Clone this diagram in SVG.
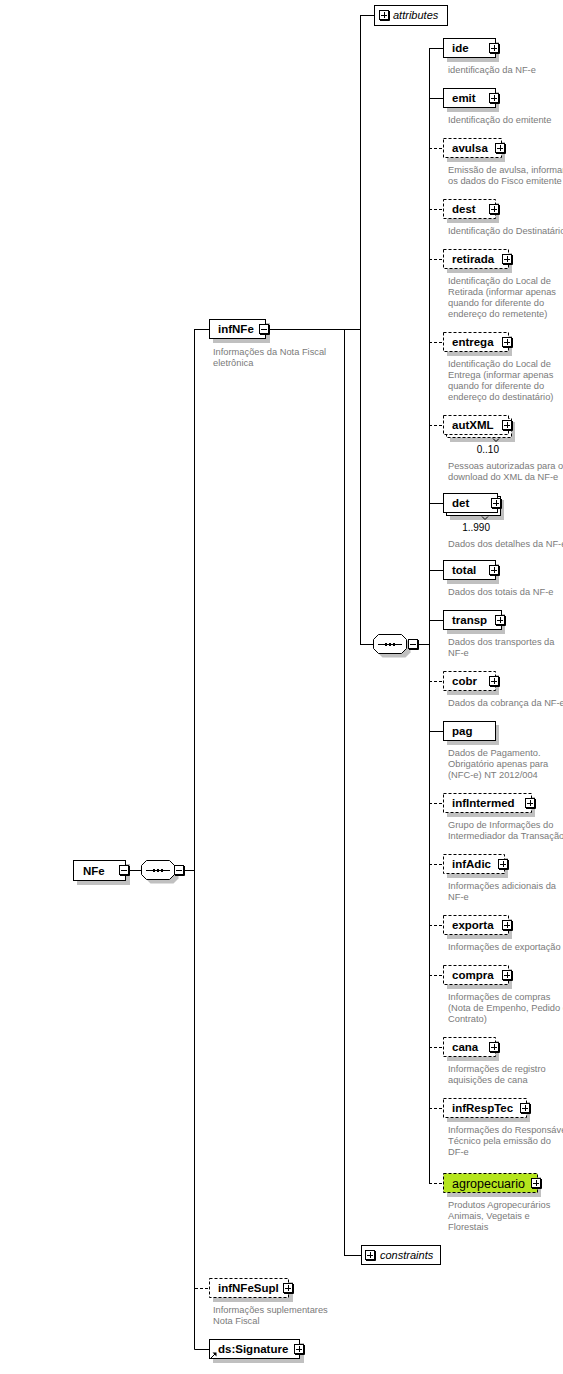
<svg xmlns="http://www.w3.org/2000/svg" width="563" height="1374" viewBox="0 0 563 1374">
<defs>
<style>
.bx{fill:#fff;stroke:#000;stroke-width:1}
.op{stroke-dasharray:3,2}
.sh{fill:#c0c0c0;stroke:none}
.ln{fill:none;stroke:#000;stroke-width:1}
.nm{font-family:"Liberation Sans",Arial,sans-serif;font-weight:bold;font-size:11.5px;fill:#000}
.ag{font-family:"Liberation Sans",Arial,sans-serif;font-size:12.5px;fill:#000}
.ds{font-family:"Liberation Sans",Arial,sans-serif;font-size:9.3px;fill:#7a7a7a}
.it{font-family:"Liberation Sans",Arial,sans-serif;font-style:italic;font-size:11px;fill:#000}
.mu{font-family:"Liberation Sans",Arial,sans-serif;font-size:10px;fill:#000;text-anchor:end}
</style>
<g id="plus"><rect x="0.5" y="0.5" width="9" height="9" fill="#fff" stroke="#000"/><path d="M2,5.5H8M5.5,2V8" stroke="#000" fill="none"/><path d="M10.5,1V10.5H1" stroke="#000" fill="none"/></g>
<g id="minus"><rect x="0.5" y="0.5" width="9" height="9" fill="#fff" stroke="#000"/><path d="M2,5.5H8" stroke="#000" fill="none"/><path d="M10.5,1V10.5H1" stroke="#000" fill="none"/></g>
<g id="seq"><path class="sh" d="M9.5,4.5H32.5L37.5,9.5V18.5L32.5,23.5H9.5L4.5,18.5V9.5Z"/><path class="bx" d="M5.5,0.5H28.5L33.5,5.5V14.5L28.5,19.5H5.5L0.5,14.5V5.5Z"/><path d="M5,10.5H29" stroke="#000" fill="none"/><rect x="12" y="9" width="2" height="3" fill="#000"/><rect x="16" y="9" width="2" height="3" fill="#000"/><rect x="20" y="9" width="2" height="3" fill="#000"/></g>
</defs>

<g id="connectors" class="ln">
<path d="M129,870.5H141M184,870.5H195"/>
<path d="M194.5,329V1349.5"/>
<path d="M194.5,329.5H209M194.5,1349.5H209"/>
<path d="M195,1288.5H209" class="op"/>
<path d="M269,329.5H360.5"/>
<path d="M360.5,15V644.5M360,15.5H374M360,644.5H373"/>
<path d="M344.5,329V1255.5M344,1255.5H361"/>
<path d="M418,644.5H429.5"/>
<path d="M429.5,48V1183.5"/>
<path d="M429,48.5H443M429,98.5H443M429,503.5H443M429,570.5H443M429,620.5H443M429,731.5H443"/>
<path class="op" d="M429,148.5H443M429,209.5H443M429,259.5H443M429,342.5H443M429,425.5H443M429,681.5H443M429,803.5H443M429,864.5H443M429,925.5H443M429,975.5H443M429,1047.5H443M429,1108.5H443M429,1183.5H443"/>
</g>

<g id="NFe">
<rect class="sh" x="77" y="864" width="53" height="21"/>
<rect class="bx" x="73.5" y="860.5" width="52" height="20"/>
<text class="nm" x="83" y="875">NFe</text>
<use href="#minus" x="119" y="865"/>
</g>
<g id="NFe_seq">
<use href="#seq" x="141" y="860"/>
<use href="#minus" x="174" y="865"/>
</g>

<g id="infNFe">
<rect class="sh" x="213" y="323" width="57" height="20"/>
<rect class="bx" x="209.5" y="319.5" width="56" height="19"/>
<text class="nm" x="218" y="333">infNFe</text>
<use href="#minus" x="259" y="324"/>
<text class="ds" x="213" y="355">Informações da Nota Fiscal</text>
<text class="ds" x="213" y="366">eletrônica</text>
</g>

<g id="infNFeSupl">
<rect class="sh" x="213" y="1282" width="80" height="20"/>
<rect class="bx op" x="209.5" y="1278.5" width="79" height="19"/>
<text class="nm" x="218" y="1292">infNFeSupl</text>
<use href="#plus" x="283" y="1283"/>
<text class="ds" x="213" y="1313">Informações suplementares</text>
<text class="ds" x="213" y="1324">Nota Fiscal</text>
</g>

<g id="ds_Signature">
<rect class="sh" x="213" y="1343" width="91" height="20"/>
<rect class="bx" x="209.5" y="1339.5" width="90" height="19"/>
<text class="nm" x="218" y="1353">ds:Signature</text>
<use href="#plus" x="294" y="1344"/>
<path d="M211,1358L215,1354" stroke="#000" fill="none"/>
<path d="M212.5,1352.5H216.5V1356.5Z" fill="#000"/>
</g>

<g id="attributes">
<rect class="bx" x="374.5" y="5.5" width="73" height="20"/>
<use href="#plus" x="379" y="10"/>
<text class="it" x="393" y="19">attributes</text>
</g>

<g id="infNFe_seq">
<use href="#seq" x="373" y="634"/>
<use href="#minus" x="408" y="639"/>
</g>

<g id="constraints">
<rect class="bx" x="361.5" y="1245.5" width="79" height="19"/>
<use href="#plus" x="365" y="1250"/>
<text class="it" x="380" y="1259">constraints</text>
</g>

<g id="ide">
<rect class="sh" x="447" y="42" width="52" height="20"/>
<rect class="bx" x="443.5" y="38.5" width="52" height="19"/>
<text class="nm" x="452" y="52">ide</text>
<use href="#plus" x="489" y="43"/>
<text class="ds" x="448" y="73">identificação da NF-e</text>
</g>

<g id="emit">
<rect class="sh" x="447" y="92" width="52" height="20"/>
<rect class="bx" x="443.5" y="88.5" width="52" height="19"/>
<text class="nm" x="452" y="102">emit</text>
<use href="#plus" x="489" y="93"/>
<text class="ds" x="448" y="123">Identificação do emitente</text>
</g>

<g id="avulsa">
<rect class="sh" x="447" y="142" width="58" height="20"/>
<rect class="bx op" x="443.5" y="138.5" width="58" height="19"/>
<text class="nm" x="452" y="152">avulsa</text>
<use href="#plus" x="495" y="143"/>
<text class="ds" x="448" y="173">Emissão de avulsa, informar</text>
<text class="ds" x="448" y="184">os dados do Fisco emitente</text>
</g>

<g id="dest">
<rect class="sh" x="447" y="203" width="52" height="20"/>
<rect class="bx op" x="443.5" y="199.5" width="52" height="19"/>
<text class="nm" x="452" y="213">dest</text>
<use href="#plus" x="489" y="204"/>
<text class="ds" x="448" y="234">Identificação do Destinatário</text>
</g>

<g id="retirada">
<rect class="sh" x="447" y="253" width="65" height="20"/>
<rect class="bx op" x="443.5" y="249.5" width="65" height="19"/>
<text class="nm" x="452" y="263">retirada</text>
<use href="#plus" x="502" y="254"/>
<text class="ds" x="448" y="284">Identificação do Local de</text>
<text class="ds" x="448" y="295">Retirada (informar apenas</text>
<text class="ds" x="448" y="306">quando for diferente do</text>
<text class="ds" x="448" y="317">endereço do remetente)</text>
</g>

<g id="entrega">
<rect class="sh" x="447" y="336" width="65" height="20"/>
<rect class="bx op" x="443.5" y="332.5" width="65" height="19"/>
<text class="nm" x="452" y="346">entrega</text>
<use href="#plus" x="502" y="337"/>
<text class="ds" x="448" y="367">Identificação do Local de</text>
<text class="ds" x="448" y="378">Entrega (informar apenas</text>
<text class="ds" x="448" y="389">quando for diferente do</text>
<text class="ds" x="448" y="400">endereço do destinatário)</text>
</g>

<g id="autXML">
<rect class="sh" x="450" y="422" width="65" height="20"/>
<rect class="bx op" x="446.5" y="418.5" width="65" height="19"/>
<path d="M493,438.5L496,441.5L499,438.5" stroke="#000" fill="none"/>
<rect class="bx op" x="443.5" y="415.5" width="65" height="19"/>
<text class="nm" x="452" y="429">autXML</text>
<use href="#plus" x="502" y="420"/>
<text class="mu" x="499" y="453">0..10</text>
<text class="ds" x="448" y="469">Pessoas autorizadas para o</text>
<text class="ds" x="448" y="480">download do XML da NF-e</text>
</g>

<g id="det">
<rect class="sh" x="450" y="500" width="54" height="20"/>
<rect class="bx" x="446.5" y="496.5" width="54" height="19"/>
<path d="M482,516.5L485,519.5L488,516.5" stroke="#000" fill="none"/>
<rect class="bx" x="443.5" y="493.5" width="54" height="19"/>
<text class="nm" x="452" y="507">det</text>
<use href="#plus" x="491" y="498"/>
<text class="mu" x="490" y="531">1..990</text>
<text class="ds" x="448" y="547">Dados dos detalhes da NF-e</text>
</g>

<g id="total">
<rect class="sh" x="447" y="564" width="52" height="20"/>
<rect class="bx" x="443.5" y="560.5" width="52" height="19"/>
<text class="nm" x="452" y="574">total</text>
<use href="#plus" x="489" y="565"/>
<text class="ds" x="448" y="595">Dados dos totais da NF-e</text>
</g>

<g id="transp">
<rect class="sh" x="447" y="614" width="58" height="20"/>
<rect class="bx" x="443.5" y="610.5" width="58" height="19"/>
<text class="nm" x="452" y="624">transp</text>
<use href="#plus" x="495" y="615"/>
<text class="ds" x="448" y="645">Dados dos transportes da</text>
<text class="ds" x="448" y="656">NF-e</text>
</g>

<g id="cobr">
<rect class="sh" x="447" y="675" width="52" height="20"/>
<rect class="bx op" x="443.5" y="671.5" width="52" height="19"/>
<text class="nm" x="452" y="685">cobr</text>
<use href="#plus" x="489" y="676"/>
<text class="ds" x="448" y="706">Dados da cobrança da NF-e</text>
</g>

<g id="pag">
<rect class="sh" x="447" y="725" width="52" height="20"/>
<rect class="bx" x="443.5" y="721.5" width="52" height="19"/>
<text class="nm" x="452" y="735">pag</text>
<text class="ds" x="448" y="756">Dados de Pagamento.</text>
<text class="ds" x="448" y="767">Obrigatório apenas para</text>
<text class="ds" x="448" y="778">(NFC-e) NT 2012/004</text>
</g>

<g id="infIntermed">
<rect class="sh" x="447" y="797" width="88" height="20"/>
<rect class="bx op" x="443.5" y="793.5" width="88" height="19"/>
<text class="nm" x="452" y="807">infIntermed</text>
<use href="#plus" x="525" y="798"/>
<text class="ds" x="448" y="828">Grupo de Informações do</text>
<text class="ds" x="448" y="839">Intermediador da Transação</text>
</g>

<g id="infAdic">
<rect class="sh" x="447" y="858" width="61" height="20"/>
<rect class="bx op" x="443.5" y="854.5" width="61" height="19"/>
<text class="nm" x="452" y="868">infAdic</text>
<use href="#plus" x="498" y="859"/>
<text class="ds" x="448" y="889">Informações adicionais da</text>
<text class="ds" x="448" y="900">NF-e</text>
</g>

<g id="exporta">
<rect class="sh" x="447" y="919" width="65" height="20"/>
<rect class="bx op" x="443.5" y="915.5" width="65" height="19"/>
<text class="nm" x="452" y="929">exporta</text>
<use href="#plus" x="502" y="920"/>
<text class="ds" x="448" y="950">Informações de exportação</text>
</g>

<g id="compra">
<rect class="sh" x="447" y="969" width="65" height="20"/>
<rect class="bx op" x="443.5" y="965.5" width="65" height="19"/>
<text class="nm" x="452" y="979">compra</text>
<use href="#plus" x="502" y="970"/>
<text class="ds" x="448" y="1000">Informações de compras</text>
<text class="ds" x="448" y="1011">(Nota de Empenho, Pedido e</text>
<text class="ds" x="448" y="1022">Contrato)</text>
</g>

<g id="cana">
<rect class="sh" x="447" y="1041" width="52" height="20"/>
<rect class="bx op" x="443.5" y="1037.5" width="52" height="19"/>
<text class="nm" x="452" y="1051">cana</text>
<use href="#plus" x="489" y="1042"/>
<text class="ds" x="448" y="1072">Informações de registro</text>
<text class="ds" x="448" y="1083">aquisições de cana</text>
</g>

<g id="infRespTec">
<rect class="sh" x="447" y="1102" width="83" height="20"/>
<rect class="bx op" x="443.5" y="1098.5" width="83" height="19"/>
<text class="nm" x="452" y="1112">infRespTec</text>
<use href="#plus" x="520" y="1103"/>
<text class="ds" x="448" y="1133">Informações do Responsável</text>
<text class="ds" x="448" y="1144">Técnico pela emissão do</text>
<text class="ds" x="448" y="1155">DF-e</text>
</g>

<g id="agropecuario">
<rect class="sh" x="447" y="1177" width="94" height="20"/>
<rect class="bx op" x="443.5" y="1173.5" width="94" height="19" style="fill:#b5e51d"/>
<text class="ag" x="452" y="1188">agropecuario</text>
<use href="#plus" x="531" y="1178"/>
<text class="ds" x="448" y="1208">Produtos Agropecurários</text>
<text class="ds" x="448" y="1219">Animais, Vegetais e</text>
<text class="ds" x="448" y="1230">Florestais</text>
</g>
</svg>
